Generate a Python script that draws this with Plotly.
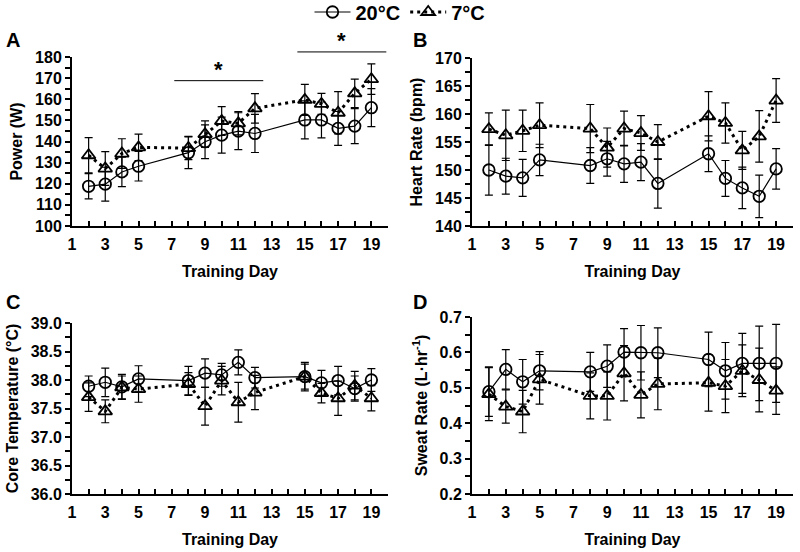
import plotly.graph_objects as go

# ---------------- data ----------------
days = [2, 3, 4, 5, 8, 9, 10, 11, 12, 15, 16, 17, 18, 19]

power_20 = [118.8, 119.8, 125.6, 128.3, 134.7, 139.9, 143.0, 144.9, 143.8, 150.2, 150.2, 146.2, 147.3, 156.0]
power_20_sd = [6, 8, 7, 7, 7.5, 8, 8.5, 8.7, 9, 9, 8.5, 8, 8.3, 9]
power_7 = [133.5, 127.2, 134.3, 137.2, 136.9, 143.5, 149.7, 148.6, 155.7, 159.7, 157.8, 153.6, 162.8, 169.5]
power_7_sd = [8.3, 8, 7, 6.3, 5.5, 6.3, 6.8, 5.5, 7, 7.3, 5, 10, 6.7, 7.2]

hr_20 = [150.0, 148.9, 148.6, 151.8, 150.8, 152.0, 151.1, 151.4, 147.6, 152.9, 148.5, 146.8, 145.3, 150.2]
hr_20_sd = [4.5, 3.2, 3.3, 2.8, 3.2, 3.1, 3.3, 3.3, 4.4, 3.2, 3.2, 3.7, 3.8, 3.6]
hr_7 = [157.3, 156.2, 157.0, 158.0, 157.4, 154.0, 157.4, 156.6, 155.0, 159.6, 158.4, 153.5, 156.0, 162.4]
hr_7_sd = [2.9, 4.5, 3.7, 4.0, 4.3, 3.5, 3.1, 3.1, 3.1, 4.4, 3.6, 3.4, 4.6, 3.9]

core_20 = [37.89, 37.96, 37.88, 38.02, 37.99, 38.12, 38.09, 38.31, 38.04, 38.06, 37.95, 37.99, 37.85, 38.00]
core_20_sd = [0.18, 0.25, 0.22, 0.23, 0.25, 0.25, 0.2, 0.22, 0.18, 0.25, 0.22, 0.25, 0.22, 0.2]
core_7 = [37.70, 37.45, 37.87, 37.84, 37.93, 37.54, 37.99, 37.61, 37.78, 38.06, 37.77, 37.68, 37.90, 37.68]
core_7_sd = [0.25, 0.2, 0.2, 0.23, 0.2, 0.33, 0.25, 0.35, 0.3, 0.22, 0.17, 0.3, 0.25, 0.22]

sweat_20 = [0.489, 0.552, 0.517, 0.548, 0.545, 0.561, 0.601, 0.599, 0.599, 0.580, 0.548, 0.569, 0.569, 0.569]
sweat_20_sd = [0.07, 0.056, 0.063, 0.054, 0.055, 0.06, 0.066, 0.077, 0.07, 0.077, 0.08, 0.085, 0.105, 0.11]
sweat_7 = [0.482, 0.447, 0.433, 0.524, 0.477, 0.477, 0.541, 0.480, 0.511, 0.514, 0.505, 0.548, 0.522, 0.492]
sweat_7_sd = [0.075, 0.047, 0.06, 0.07, 0.065, 0.068, 0.078, 0.065, 0.073, 0.08, 0.075, 0.073, 0.09, 0.067]

series_names = ["20°C", "7°C"]
panel_letters = ["A", "B", "C", "D"]
y_titles = ["Power (W)", "Heart Rate (bpm)", "Core Temperature (°C)", "Sweat Rate (L·hr<sup>-1</sup>)"]
x_title = "Training Day"

# significance bars on panel A: (start day, end day, level in W)
sig_bars = [(7.15, 12.5, 168.8), (14.55, 19.9, 182.4)]

FONT = "Liberation Sans, Arial, sans-serif"
W, H = 800, 552


def fx(px):
    return px / W


def fy(py):
    return 1 - py / H


panels = [
    (power_20, power_20_sd, power_7, power_7_sd),
    (hr_20, hr_20_sd, hr_7, hr_7_sd),
    (core_20, core_20_sd, core_7, core_7_sd),
    (sweat_20, sweat_20_sd, sweat_7, sweat_7_sd),
]

fig = go.Figure()
for i, (a, asd, b, bsd) in enumerate(panels):
    ax = "" if i == 0 else str(i + 1)
    fig.add_trace(go.Scatter(
        x=days, y=a, name=series_names[0], mode="lines+markers",
        xaxis="x" + ax, yaxis="y" + ax, showlegend=(i == 0),
        line=dict(color="black", width=1.2),
        marker=dict(symbol="circle-open", size=11.5, color="black", line=dict(width=1.8)),
        error_y=dict(type="data", array=asd, visible=True, color="black", thickness=1.2, width=4),
    ))
    fig.add_trace(go.Scatter(
        x=days, y=b, name=series_names[1], mode="lines+markers",
        xaxis="x" + ax, yaxis="y" + ax, showlegend=(i == 0),
        line=dict(color="black", width=3, dash="3px,4px"),
        marker=dict(symbol="triangle-up-open", size=12, color="black", line=dict(width=1.8)),
        error_y=dict(type="data", array=bsd, visible=True, color="black", thickness=1.2, width=4),
    ))

# plot-area boxes in window pixels (left, right, top, bottom)
boxes = [(72, 388, 57, 226), (472, 793, 58, 226), (72, 388, 323, 494), (472, 793, 317, 494)]
yranges = [[100, 180], [140, 170], [36, 39], [0.2, 0.7]]
ydticks = [10, 5, 0.5, 0.1]
yformats = ["d", "d", ".1f", ".1f"]

tickfont = dict(family=FONT, size=16, color="black", weight="bold")
layout = dict(
    width=W, height=H, margin=dict(l=0, r=0, t=0, b=0, autoexpand=False),
    paper_bgcolor="white", plot_bgcolor="white",
    font=dict(family=FONT, color="black"),
    legend=dict(orientation="h", x=fx(400), xanchor="center", y=fy(12), yanchor="middle",
                font=dict(family=FONT, size=20, color="black", weight="bold"),
                itemwidth=36, tracegroupgap=0, bgcolor="rgba(0,0,0,0)"),
)
for i in range(4):
    ax = "" if i == 0 else str(i + 1)
    l, r, t, b = boxes[i]
    layout["xaxis" + ax] = dict(
        domain=[fx(l), fx(r)], anchor="y" + ax, range=[1, 20],
        tickmode="linear", tick0=1, dtick=2,
        ticks="inside", ticklen=5, tickwidth=1.5, tickcolor="black",
        minor=dict(dtick=1, tick0=1, ticks="inside", ticklen=5, tickwidth=1.5, tickcolor="black"),
        showline=True, linewidth=2, linecolor="black",
        showgrid=False, zeroline=False, tickfont=tickfont, ticklabelstandoff=3,
        title=dict(text=x_title, font=tickfont, standoff=14),
    )
    layout["yaxis" + ax] = dict(
        domain=[fy(b), fy(t)], anchor="x" + ax, range=yranges[i],
        tickmode="linear", tick0=yranges[i][0], dtick=ydticks[i], tickformat=yformats[i],
        ticks="outside", ticklen=5, tickwidth=1.5, tickcolor="black",
        minor=dict(dtick=ydticks[i] / 2, ticks="outside", ticklen=5, tickwidth=1.5, tickcolor="black"),
        showline=True, linewidth=2, linecolor="black",
        showgrid=False, zeroline=False, tickfont=tickfont,
        title=dict(text=y_titles[i], font=tickfont, standoff=8),
    )
fig.update_layout(**layout)

# panel letters
letter_pos = [(4, 40), (411, 40), (4, 302), (411, 302)]
for L, (px, py) in zip(panel_letters, letter_pos):
    fig.add_annotation(text=L, x=fx(px), y=fy(py), xref="paper", yref="paper", showarrow=False,
                       xanchor="left", yanchor="middle",
                       font=dict(family=FONT, size=20, color="black", weight="bold"))

# significance bars on panel A
ymin, ymax = yranges[0]
for x0, x1, lvl in sig_bars:
    frac = (lvl - ymin) / (ymax - ymin)
    fig.add_shape(type="line", xref="x", yref="y domain", x0=x0, x1=x1, y0=frac, y1=frac,
                  line=dict(color="black", width=1))
    fig.add_annotation(text="*", xref="x", yref="y domain", x=(x0 + x1) / 2, y=frac,
                       yanchor="bottom", showarrow=False, yshift=-3,
                       font=dict(family=FONT, size=22, color="black", weight="bold"))

# remove the default 8px page margin so the figure fills the 800x552 window exactly
fig.write_html("out.html", config={"displayModeBar": False},
               post_script="document.body.style.margin='0';")
